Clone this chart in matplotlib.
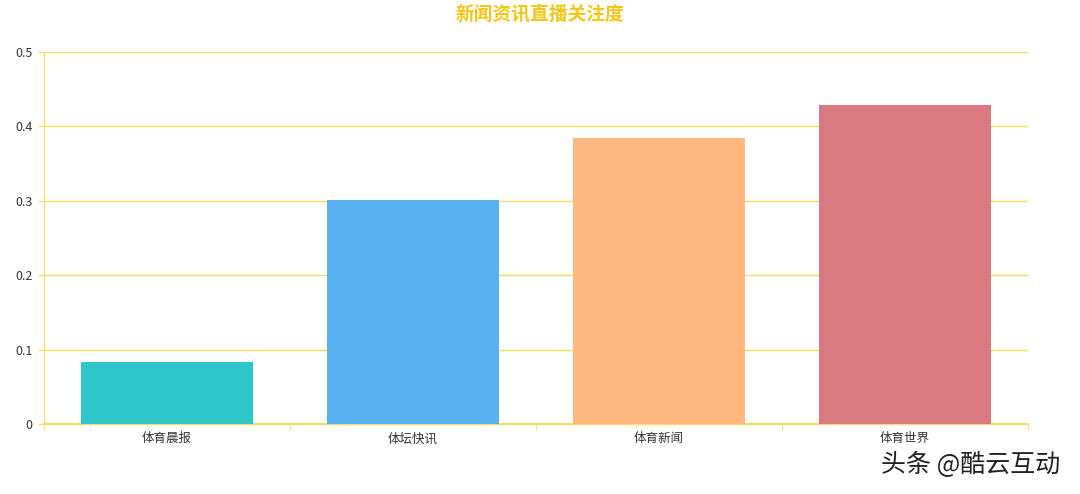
import matplotlib.pyplot as plt
import numpy as np

plt.rcParams['font.family'] = ['Noto Sans CJK SC', 'DejaVu Sans']

categories = ['体育晨报', '体坛快讯', '体育新闻', '体育世界']
values = [0.083, 0.301, 0.384, 0.429]
colors = ['#2ec7c9', '#5ab1ef', '#ffb980', '#d87a80']
yticks = [0, 0.1, 0.2, 0.3, 0.4, 0.5]
ytick_labels = ['0', '0.1', '0.2', '0.3', '0.4', '0.5']

fig = plt.figure(figsize=(10.8, 4.94), dpi=100)
ax = fig.add_axes([0.0407, 0.1417, 0.9112, 0.753])

x = np.arange(len(categories))
ax.bar(x, values, width=0.7, color=colors, zorder=3)

line_col = '#f7de5a'
ax.set_xlim(-0.5, len(categories) - 0.5)
ax.set_ylim(0, 0.5)
ax.set_yticks(yticks)
ax.set_yticklabels(ytick_labels)
ax.yaxis.grid(True, color=line_col, linewidth=1, zorder=0)

ax.set_xticks(x)
ax.set_xticklabels(categories)
ax.set_xticks(np.arange(len(categories) + 1) - 0.5, minor=True)
ax.tick_params(axis='x', which='major', length=0, pad=6, labelsize=9, labelcolor='#333333')
ax.tick_params(axis='x', which='minor', length=4, color=line_col)
ax.tick_params(axis='y', length=4, color=line_col, pad=4, labelsize=9, labelcolor='#333333')

for side in ['top', 'right']:
    ax.spines[side].set_visible(False)
ax.spines['left'].set_color(line_col)
ax.spines['bottom'].set_color(line_col)
ax.spines['bottom'].set_linewidth(1.5)

fig.text(0.5, 0.972, '新闻资讯直播关注度', ha='center', va='center',
         fontsize=13.5, fontweight='bold', color='#f5c518')

fig.text(0.982, 0.058, '头条 @酷云互动', ha='right', va='center',
         fontsize=18, color='#222222')

fig.savefig('out.png', dpi=100, facecolor='white')
